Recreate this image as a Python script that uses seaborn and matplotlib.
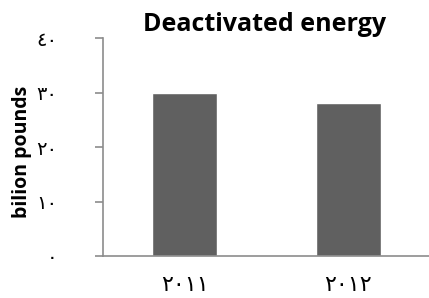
import pandas as pd
import matplotlib
matplotlib.use("Agg")
import matplotlib.pyplot as plt
import seaborn as sns

# data
years = ["٢٠١١", "٢٠١٢"]
values = [30, 28]
y_ticks = [0, 10, 20, 30, 40]
y_tick_labels = ["٠", "١٠", "٢٠", "٣٠", "٤٠"]

df = pd.DataFrame({"year": years, "value": values})

sns.set_style("white")
plt.rcParams["font.family"] = ["Open Sans", "DejaVu Sans"]
plt.rcParams["text.color"] = "black"
plt.rcParams["axes.labelcolor"] = "black"
plt.rcParams["xtick.color"] = "black"
plt.rcParams["ytick.color"] = "black"

fig = plt.figure(figsize=(4.29, 2.98), dpi=100)
ax = fig.add_axes([0.24, 0.141, 0.77, 0.731])

sns.barplot(
    data=df,
    x="year",
    y="value",
    color="#606060",
    saturation=1,
    width=0.4,
    ax=ax
)

ax.set_ylim(0, 40)
ax.set_xlim(-0.5, 1.52)
ax.set_yticks(y_ticks)
ax.set_yticklabels(y_tick_labels, family="DejaVu Sans", fontsize=14)
ax.set_xticks(range(len(years)))
ax.set_xticklabels(years, family="DejaVu Sans", fontsize=16)

for side in ["top", "right"]:
    ax.spines[side].set_visible(False)
for side in ["left", "bottom"]:
    ax.spines[side].set_color("#8c8c8c")
    ax.spines[side].set_linewidth(1.2)

ax.tick_params(axis="y", left=True, length=6, color="#8c8c8c", labelcolor="black",
               width=1.2, pad=27)
ax.tick_params(axis="x", bottom=False, labelcolor="black", pad=10)

ax.set_xlabel("")
ax.set_ylabel("bilion pounds", fontsize=14, fontweight="bold", color="black")
ax.yaxis.set_label_coords(-0.215, 0.48)
ax.set_title("Deactivated energy", fontsize=18, fontweight="bold", color="black",
             pad=5, x=0.49)

fig.savefig("out.png", dpi=100)
plt.close()
